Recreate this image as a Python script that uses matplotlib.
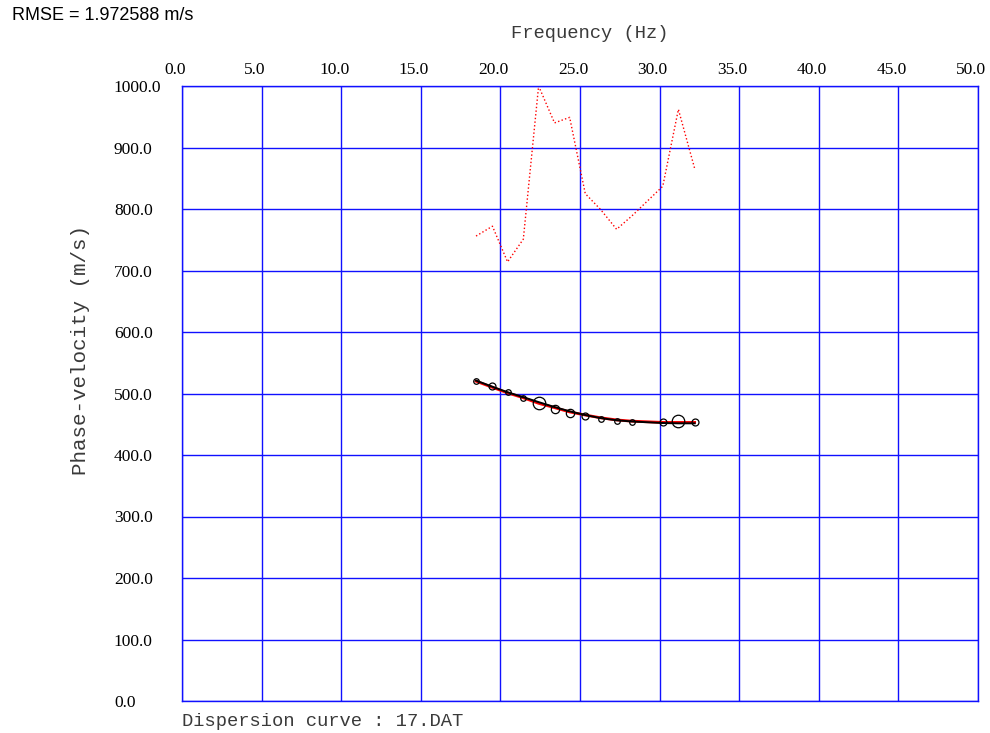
import matplotlib.pyplot as plt
from matplotlib.transforms import ScaledTranslation

# observed dispersion points
freq = [18.47, 19.5, 20.45, 21.44, 22.4, 23.4, 24.35, 25.33, 26.3, 27.3, 28.27, 30.2, 31.18, 32.2]
vel_obs = [521, 513, 503, 493, 485, 475, 469, 463, 458.5, 456, 453.7, 454, 455, 454]
circle_size = [4, 5, 4, 4, 9, 6, 6, 5, 4, 4, 4, 5, 9, 5]

# theoretical curve (red) and fitted curve (black)
vel_theo = [520, 510, 501, 493, 484, 477, 470, 465, 460.5, 457, 455, 453, 453, 453]
vel_fit = [521, 511, 502, 494, 486, 478, 471, 465, 460, 456.5, 454.5, 452, 451.5, 451.5]

# dotted red curve
vel_dot = [756, 772, 714, 751, 1000, 940, 949, 825, 799, 767, 789, 837, 962, 866]

x_ticks = [0, 5, 10, 15, 20, 25, 30, 35, 40, 45, 50]
y_ticks = [0, 100, 200, 300, 400, 500, 600, 700, 800, 900, 1000]


def main():
    fig = plt.figure(figsize=(9.9, 7.33), dpi=100)
    ax = fig.add_axes([182 / 990, 1 - 701 / 733, (978 - 182) / 990, (701 - 86) / 733])

    ax.set_xlim(0, 50)
    ax.set_ylim(0, 1000)
    ax.set_xticks(x_ticks)
    ax.set_yticks(y_ticks)
    ax.set_xticklabels(['%.1f' % v for v in x_ticks], family='Liberation Serif', fontsize=12.5)
    ax.set_yticklabels(['%.1f' % v for v in y_ticks], family='Liberation Serif', fontsize=12.5,
                       ha='left')
    ax.xaxis.tick_top()
    ax.tick_params(axis='x', length=0, pad=6)
    ax.tick_params(axis='y', length=0, pad=49)
    # labels sit a bit left of their grid lines
    shift = ScaledTranslation(-7 / 100, 0, fig.dpi_scale_trans)
    for lab in ax.get_xticklabels():
        lab.set_transform(lab.get_transform() + shift)
    ax.grid(True, color='#1010ff', linewidth=1.0)
    for s in ax.spines.values():
        s.set_color('#1010ff')
        s.set_linewidth(1.0)

    ax.plot(freq, vel_dot, color='red', linestyle=':', linewidth=1.0)
    ax.plot(freq, vel_theo, color='red', linewidth=2.0)
    ax.plot(freq, vel_fit, color='black', linewidth=1.4)
    for f, v, s in zip(freq, vel_obs, circle_size):
        ax.plot(f, v, 'o', markersize=s, markerfacecolor='none',
                markeredgecolor='black', markeredgewidth=0.9)

    fig.text(12 / 990, 1 - 15 / 733, 'RMSE = 1.972588 m/s', family='Liberation Sans',
             fontsize=13, va='center', ha='left')
    fig.text(590 / 990, 1 - 33 / 733, 'Frequency (Hz)', family='Liberation Mono',
             fontsize=13.5, va='center', ha='center', color='#3a3a3a')
    fig.text(81 / 990, 1 - 350 / 733, 'Phase-velocity (m/s)', family='Liberation Mono',
             fontsize=15, va='center', ha='center', rotation=90, color='#3a3a3a')
    fig.text(182 / 990, 1 - 722 / 733, 'Dispersion curve : 17.DAT', family='Liberation Mono',
             fontsize=13.5, va='center', ha='left', color='#3a3a3a')

    fig.savefig('out.png', dpi=100)


if __name__ == '__main__':
    main()
